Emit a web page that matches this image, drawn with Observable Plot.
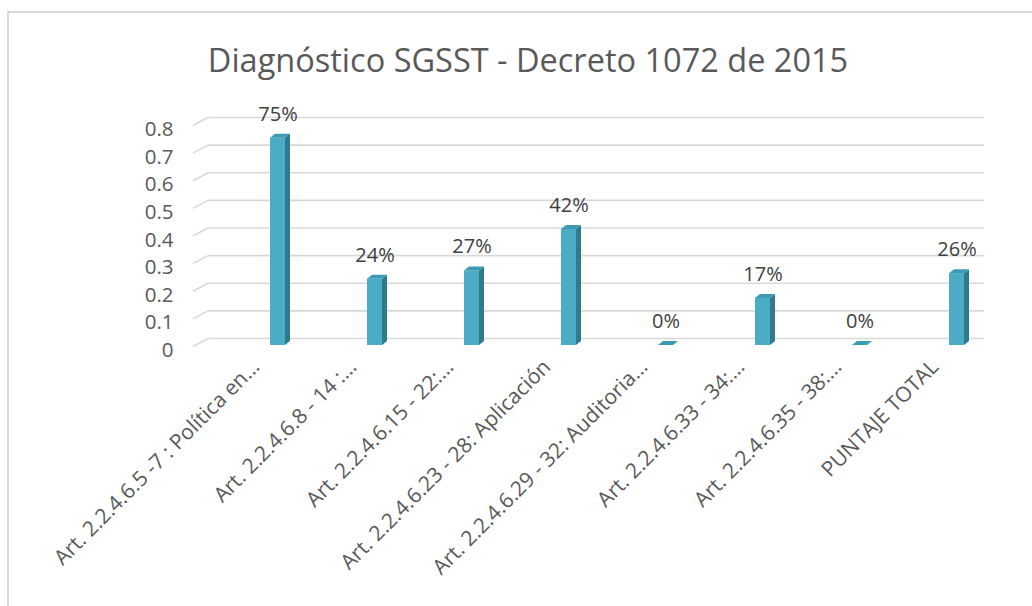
<!DOCTYPE html>
<html>
<head>
<meta charset="utf-8">
<script src="https://cdn.jsdelivr.net/npm/d3@7"></script>
<script src="https://cdn.jsdelivr.net/npm/@observablehq/plot@0.6"></script>
<style>
  html, body { margin: 0; padding: 0; background: #ffffff; }
  body { width: 1032px; height: 606px; overflow: hidden; position: relative; font-family: "Open Sans", sans-serif; }
  #frame { position: absolute; left: 7px; top: 11px; width: 1060px; height: 640px; border: 2px solid #d9d9d9; box-sizing: border-box; }
  #head { position: relative; height: 100px; }
  #title { position: absolute; left: 0; top: 40px; width: 1056px; text-align: center; font-size: 32.5px; line-height: 40px; color: #595959; }
  #chart { position: relative; }
</style>
</head>
<body>
<div id="frame"></div>
<div id="head"><div id="title">Diagnóstico SGSST - Decreto 1072 de 2015</div></div>
<div id="chart"></div>
<script>
const categories = [
  "Art. 2.2.4.6.5 -7 : Política en…",
  "Art. 2.2.4.6.8 - 14 :…",
  "Art. 2.2.4.6.15 - 22:…",
  "Art. 2.2.4.6.23 - 28: Aplicación",
  "Art. 2.2.4.6.29 - 32: Auditoria…",
  "Art. 2.2.4.6.33 - 34:…",
  "Art. 2.2.4.6.35 - 38:…",
  "PUNTAJE TOTAL"
];
const values = [0.75, 0.24, 0.27, 0.42, 0, 0.17, 0, 0.26];
const yTicks = [0, 0.1, 0.2, 0.3, 0.4, 0.5, 0.6, 0.7, 0.8];

const data = categories.map((c, i) => ({cat: c, value: values[i]}));

function gridRender(index, scales, vals, dims, context, next) {
  const g = next(index, scales, vals, dims, context);
  const lines = Array.from(g.querySelectorAll("line"));
  lines.forEach(l => {
    const x1 = +l.getAttribute("x1"), y1 = +l.getAttribute("y1");
    const d = document.createElementNS("http://www.w3.org/2000/svg", "line");
    d.setAttribute("x1", x1 - 15); d.setAttribute("y1", y1 + 8);
    d.setAttribute("x2", x1); d.setAttribute("y2", y1);
    l.parentNode.appendChild(d);
  });
  return g;
}

function barRender(index, scales, vals, dims, context, next) {
  const g = next(index, scales, vals, dims, context);
  const rects = Array.from(g.querySelectorAll("rect"));
  const ox = 5, oy = 4;
  rects.forEach(r => {
    const x = +r.getAttribute("x"), y = +r.getAttribute("y");
    const w = +r.getAttribute("width"), h = +(r.getAttribute("height") || 0);
    const side = document.createElementNS("http://www.w3.org/2000/svg", "polygon");
    side.setAttribute("points", `${x + w},${y} ${x + w + ox},${y - oy} ${x + w + ox},${y + h - oy} ${x + w},${y + h}`);
    side.setAttribute("fill", "#2e7b8f");
    const top = document.createElementNS("http://www.w3.org/2000/svg", "polygon");
    top.setAttribute("points", `${x},${y} ${x + ox},${y - oy} ${x + w + ox},${y - oy} ${x + w},${y}`);
    top.setAttribute("fill", "#3c9ab3");
    r.parentNode.appendChild(side);
    r.parentNode.appendChild(top);
  });
  return g;
}

const chart = Plot.plot({
  width: 1032,
  height: 506,
  marginLeft: 208,
  marginRight: 48,
  marginTop: 17,
  marginBottom: 268,
  style: {fontFamily: "'Open Sans', sans-serif", background: "transparent", overflow: "visible"},
  x: {domain: categories, range: [229, 1005], paddingInner: 0.845, paddingOuter: 0.4225, align: 0.5, label: null},
  y: {domain: [0, 0.8], label: null},
  marks: [
    Plot.ruleY(yTicks, {stroke: "#d9d9d9", strokeWidth: 1.6, render: gridRender}),
    Plot.axisY({ticks: yTicks, tickSize: 0, tickPadding: 35, dy: 12, fontSize: 20.5, color: "#595959", label: null,
      tickFormat: d => d === 0 ? "0" : d.toFixed(1)}),
    Plot.axisX({tickSize: 0, tickRotate: -45, tickPadding: 25, dx: -22, fontSize: 21, color: "#595959", label: null}),
    Plot.barY(data, {x: "cat", y: "value", fill: "#4bacc6", dy: 7, render: barRender}),
    Plot.text(data, {x: "cat", y: "value", text: d => Math.round(d.value * 100) + "%", dy: -17,
      fontSize: 20, fill: "#404040"})
  ]
});
document.getElementById("chart").appendChild(chart);
</script>
</body>
</html>
